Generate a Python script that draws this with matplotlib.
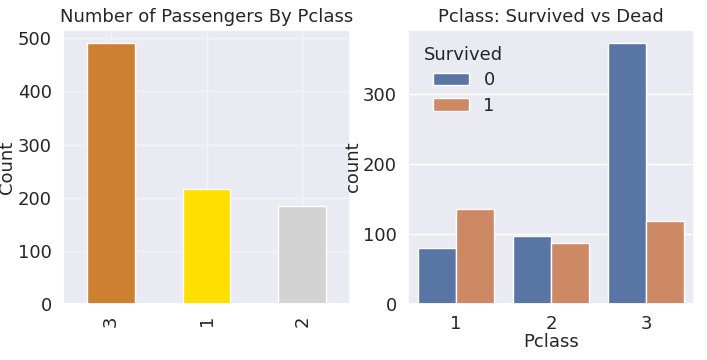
import numpy as np
import pandas as pd
import matplotlib
matplotlib.use("Agg")
import matplotlib.pyplot as plt
import seaborn as sns

sns.set_theme(style="darkgrid")

# passengers per class (order as shown)
pclass_labels = ["3", "1", "2"]
pclass_counts = [491, 216, 184]
bar_colors = ["#CD7F32", "#FFDF00", "#D3D3D3"]

# survived vs dead per class
classes = [1, 2, 3]
dead = [80, 97, 372]
survived = [136, 87, 119]

fs = 13

fig = plt.figure(figsize=(7.07, 3.6), dpi=100)
ax0 = fig.add_axes([63 / 707, 1 - 304 / 360, (350 - 63) / 707, 274 / 360])
ax1 = fig.add_axes([408 / 707, 1 - 304 / 360, (694 - 408) / 707, 274 / 360])

s = pd.Series(pclass_counts, index=pclass_labels)
s.plot.bar(color=bar_colors, ax=ax0)
ax0.grid(alpha=0.5)
ax0.set_title("Number of Passengers By Pclass", fontsize=fs)
ax0.set_ylabel("Count", fontsize=fs, labelpad=1)
ax0.tick_params(labelsize=fs, pad=2)

rows = []
for c, d, sv in zip(classes, dead, survived):
    rows += [{"Pclass": c, "Survived": 0}] * d
    rows += [{"Pclass": c, "Survived": 1}] * sv
df = pd.DataFrame(rows)
sns.countplot(x="Pclass", hue="Survived", data=df, ax=ax1)
ax1.set_title("Pclass: Survived vs Dead", fontsize=fs)
ax1.set_xlabel("Pclass", fontsize=fs, labelpad=0)
ax1.set_ylabel("count", fontsize=fs, labelpad=1)
ax1.tick_params(labelsize=fs, pad=2)
ax1.legend(title="Survived", loc="upper left", frameon=False, fontsize=fs,
           title_fontsize=fs, labelspacing=0.4)

plt.savefig("out.png")
